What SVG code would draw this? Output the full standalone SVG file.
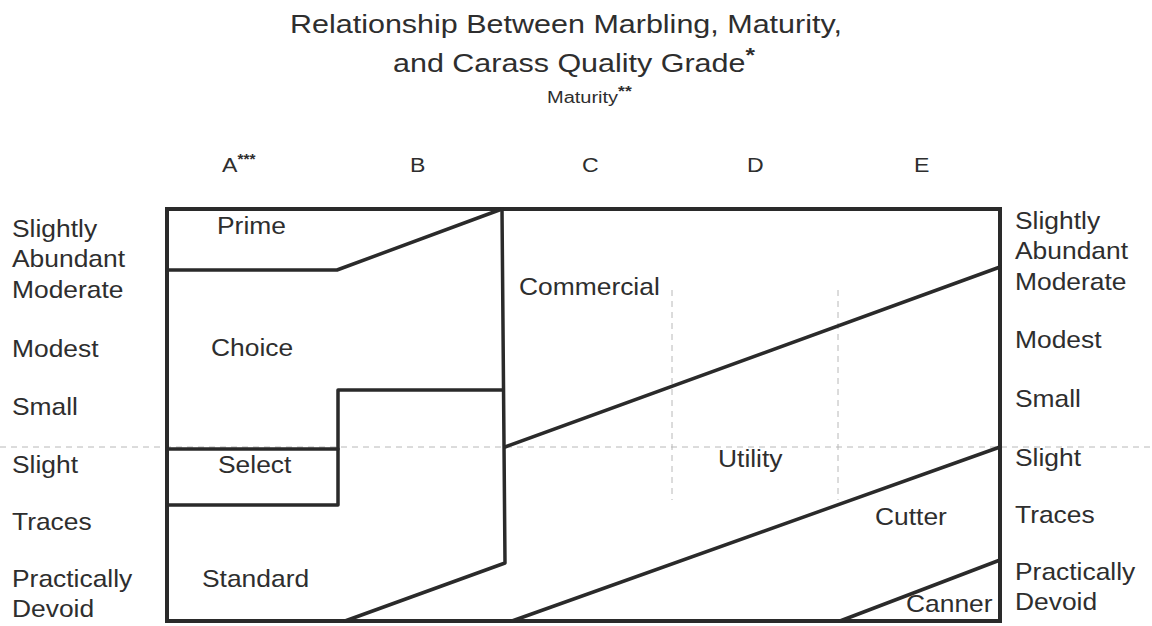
<svg xmlns="http://www.w3.org/2000/svg" width="1152" height="626" viewBox="0 0 1152 626">
<style>
  text { font-family: "Liberation Sans", Arial, sans-serif; fill: #2e2e2e; }
  .lbl { font-size: 24px; }
  .hdr { font-size: 21px; }
  .ttl { font-size: 25px; }
  .sup { font-size: 14px; font-weight: bold; }
  .ln { stroke: #2a2a2a; stroke-width: 3.5; fill: none; stroke-linejoin: round; stroke-linecap: round; }
  .frame { stroke: #2a2a2a; stroke-width: 4; fill: none; }
  .grid { stroke: #b8b8b8; stroke-width: 1; stroke-dasharray: 6 5; fill: none; }
</style>
<rect width="1152" height="626" fill="#ffffff"/>

<g id="title">
  <g transform="translate(290,33) scale(1.22,1)"><text class="ttl" x="0" y="0">Relationship Between Marbling, Maturity,</text></g>
  <g transform="translate(393,72) scale(1.22,1)"><text class="ttl" x="0" y="0">and Carass Quality Grade<tspan font-size="20" font-weight="bold" dy="-10">*</tspan></text></g>
  <g transform="translate(547,103) scale(1.25,1)"><text x="0" y="0" font-size="16">Maturity<tspan font-size="14" font-weight="bold" dy="-7">**</tspan></text></g>
</g>

<g id="column-headers">
  <g transform="translate(222,172) scale(1.1,1)"><text class="hdr" x="0" y="0">A<tspan class="sup" dy="-8">***</tspan></text></g>
  <g transform="translate(410,172) scale(1.1,1)"><text class="hdr" x="0" y="0">B</text></g>
  <g transform="translate(582,172) scale(1.1,1)"><text class="hdr" x="0" y="0">C</text></g>
  <g transform="translate(747,172) scale(1.1,1)"><text class="hdr" x="0" y="0">D</text></g>
  <g transform="translate(914,172) scale(1.1,1)"><text class="hdr" x="0" y="0">E</text></g>
</g>

<g id="left-axis">
  <g transform="translate(12,237) scale(1.1,1)"><text class="lbl">Slightly</text></g>
  <g transform="translate(12,267) scale(1.1,1)"><text class="lbl">Abundant</text></g>
  <g transform="translate(12,298) scale(1.1,1)"><text class="lbl">Moderate</text></g>
  <g transform="translate(12,357) scale(1.1,1)"><text class="lbl">Modest</text></g>
  <g transform="translate(12,415) scale(1.1,1)"><text class="lbl">Small</text></g>
  <g transform="translate(12,473) scale(1.1,1)"><text class="lbl">Slight</text></g>
  <g transform="translate(12,530) scale(1.1,1)"><text class="lbl">Traces</text></g>
  <g transform="translate(12,587) scale(1.1,1)"><text class="lbl">Practically</text></g>
  <g transform="translate(12,617) scale(1.1,1)"><text class="lbl">Devoid</text></g>
</g>

<g id="right-axis">
  <g transform="translate(1015,229) scale(1.1,1)"><text class="lbl">Slightly</text></g>
  <g transform="translate(1015,259) scale(1.1,1)"><text class="lbl">Abundant</text></g>
  <g transform="translate(1015,290) scale(1.1,1)"><text class="lbl">Moderate</text></g>
  <g transform="translate(1015,348) scale(1.1,1)"><text class="lbl">Modest</text></g>
  <g transform="translate(1015,407) scale(1.1,1)"><text class="lbl">Small</text></g>
  <g transform="translate(1015,466) scale(1.1,1)"><text class="lbl">Slight</text></g>
  <g transform="translate(1015,523) scale(1.1,1)"><text class="lbl">Traces</text></g>
  <g transform="translate(1015,580) scale(1.1,1)"><text class="lbl">Practically</text></g>
  <g transform="translate(1015,610) scale(1.1,1)"><text class="lbl">Devoid</text></g>
</g>

<g id="gridlines">
  <line class="grid" x1="0" y1="447" x2="1150" y2="447"/>
  <line class="grid" x1="672" y1="290" x2="672" y2="500"/>
  <line class="grid" x1="838" y1="290" x2="838" y2="500"/>
</g>

<g id="connectors">
  <rect class="frame" x="167" y="209" width="833" height="412"/>
  <polyline class="ln" points="167,270 337,270 502,209"/>
  <polyline class="ln" points="502,209 505,563 345,621"/>
  <polyline class="ln" points="503,390 338,390 338,505 167,505"/>
  <line class="ln" x1="167" y1="449" x2="338" y2="449"/>
  <line class="ln" x1="505" y1="447" x2="1000" y2="267"/>
  <line class="ln" x1="512" y1="621" x2="1000" y2="447"/>
  <line class="ln" x1="840" y1="621" x2="1000" y2="560"/>
</g>

<g id="prime"><g transform="translate(217,234) scale(1.1,1)"><text class="lbl">Prime</text></g></g>
<g id="choice"><g transform="translate(211,356) scale(1.1,1)"><text class="lbl">Choice</text></g></g>
<g id="select"><g transform="translate(218,473) scale(1.1,1)"><text class="lbl">Select</text></g></g>
<g id="standard"><g transform="translate(202,587) scale(1.1,1)"><text class="lbl">Standard</text></g></g>
<g id="commercial"><g transform="translate(519,295) scale(1.1,1)"><text class="lbl">Commercial</text></g></g>
<g id="utility"><g transform="translate(718,467) scale(1.1,1)"><text class="lbl">Utility</text></g></g>
<g id="cutter"><g transform="translate(875,525) scale(1.1,1)"><text class="lbl">Cutter</text></g></g>
<g id="canner"><g transform="translate(906,612) scale(1.1,1)"><text class="lbl">Canner</text></g></g>
</svg>
